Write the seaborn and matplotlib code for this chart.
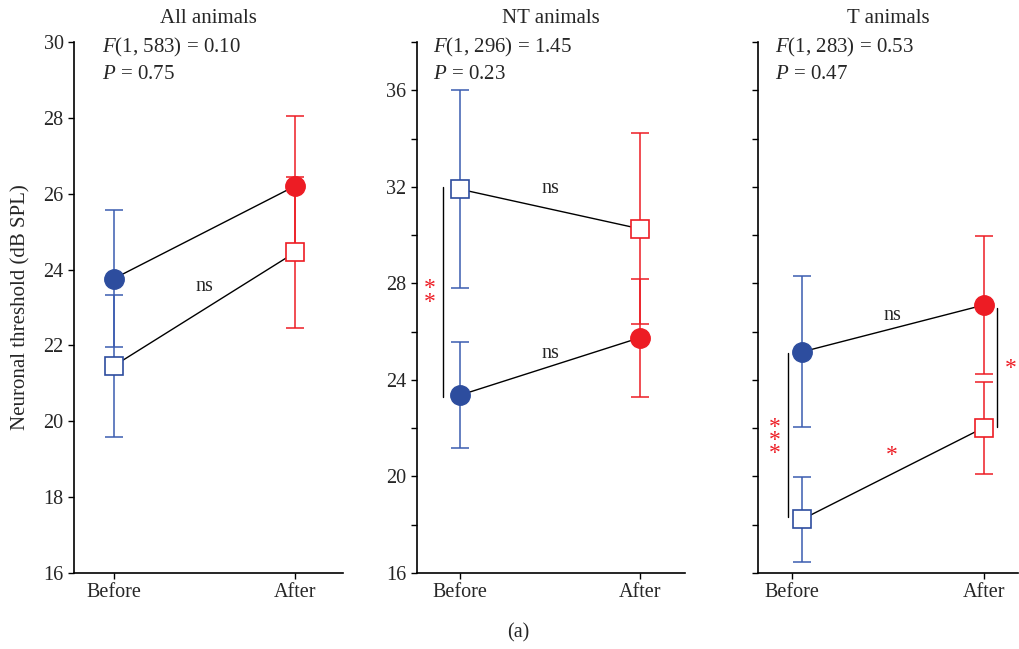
import matplotlib
matplotlib.use("Agg")
import matplotlib.pyplot as plt
import seaborn as sns
import pandas as pd

# data (mean +/- error)
conditions = ["Before", "After"]
panel_titles = ["All animals", "NT animals", "T animals"]

all_filled = [23.76, 26.20]
all_filled_err = [1.80, 1.86]
all_open = [21.46, 24.45]
all_open_err = [1.87, 2.00]

nt_filled = [23.37, 25.75]
nt_filled_err = [2.20, 2.45]
nt_open = [31.90, 30.26]
nt_open_err = [4.10, 3.95]

t_filled = [25.16, 27.10]
t_filled_err = [3.13, 2.87]
t_open = [18.22, 22.02]
t_open_err = [1.75, 1.90]

f_texts = ["(1, 583) = 0.10", "(1, 296) = 1.45", "(1, 283) = 0.53"]
p_texts = ["0.75", "0.23", "0.47"]

BLUE = "#2d4d9e"
BLUE_BAR = "#3b5cb0"
RED = "#ed1c24"

sns.set_style("ticks")
plt.rcParams["font.family"] = ["Liberation Serif", "DejaVu Serif"]
plt.rcParams["mathtext.fontset"] = "custom"
plt.rcParams["mathtext.it"] = "Liberation Serif:italic"
plt.rcParams["mathtext.rm"] = "Liberation Serif"
FS = 14.5

fig = plt.figure(figsize=(10.2, 6.49), dpi=100)
boxes = [(0.0725, 0.1171, 0.2637, 0.8182),
         (0.4088, 0.1171, 0.2627, 0.8182),
         (0.7431, 0.1171, 0.2549, 0.8182)]
xlims = [(-0.22, 1.265), (-0.24, 1.25), (-0.18, 1.18)]
shifts = [0.0, 0.0, 0.05]
text_x = [0.104, 0.06, 0.065]

panels = [(all_filled, all_filled_err, all_open, all_open_err),
          (nt_filled, nt_filled_err, nt_open, nt_open_err),
          (t_filled, t_filled_err, t_open, t_open_err)]

axes = []
for i, (filled, filled_err, opn, opn_err) in enumerate(panels):
    ax = fig.add_axes(boxes[i])
    axes.append(ax)
    xs = [0 + shifts[i], 1]
    df = pd.DataFrame({"x": xs * 2, "y": filled + opn,
                       "grp": ["filled"] * 2 + ["open"] * 2})
    # error bars, one colour per condition
    for j, col in enumerate([BLUE_BAR, RED]):
        ax.errorbar([xs[j], xs[j]], [filled[j], opn[j]],
                    yerr=[filled_err[j], opn_err[j]], fmt="none",
                    ecolor=col, elinewidth=1.1, capsize=6.5, capthick=1.1, zorder=2)
    sns.lineplot(data=df, x="x", y="y", units="grp", estimator=None,
                 color="black", linewidth=1.0, ax=ax, zorder=3, legend=False)
    for j, col in enumerate([BLUE, RED]):
        ax.plot(xs[j], filled[j], "o", ms=14, color=col, mec=col, zorder=4)
        ax.plot(xs[j], opn[j], "s", ms=12.5, mfc="white", mec=col, mew=1.2, zorder=4)

    ax.set_xlim(*xlims[i])
    ax.set_xticks([0, 1])
    ax.set_xticklabels(conditions)
    ax.set_xlabel("")
    ax.set_ylabel("")
    ax.set_title(panel_titles[i], fontsize=FS + 0.5, pad=14)
    ax.text(text_x[i], 0.99, "$F$" + f_texts[i], transform=ax.transAxes,
            fontsize=FS + 0.5, va="center")
    ax.text(text_x[i], 0.938, "$P$ = " + p_texts[i], transform=ax.transAxes,
            fontsize=FS + 0.5, va="center")
    ax.tick_params(direction="out", length=4, width=1, labelsize=FS, color="black")
    for s in ["left", "bottom"]:
        ax.spines[s].set_linewidth(1.2)
        ax.spines[s].set_color("black")
    sns.despine(ax=ax)

# panel 1 axis
axes[0].set_ylim(16, 30)
axes[0].set_yticks(range(16, 31, 2))
axes[0].set_ylabel("Neuronal threshold (dB SPL)", fontsize=FS + 0.5, labelpad=9)

# panel 2 and 3 axes
for ax in axes[1:]:
    ax.set_ylim(16, 38)
    ax.set_yticks(range(16, 39, 2))
axes[1].set_yticklabels([str(v) if v % 4 == 0 and v < 38 else "" for v in range(16, 39, 2)])
axes[2].set_yticklabels([])

# annotations
axes[0].text(0.5, 23.55, "ns", ha="center", va="center", fontsize=FS)

ax = axes[1]
ax.text(0.5, 31.94, "ns", ha="center", va="center", fontsize=FS)
ax.text(0.5, 25.1, "ns", ha="center", va="center", fontsize=FS)
ax.plot([-0.093, -0.093], [23.3, 32.0], color="black", lw=1.0)
ax.text(-0.167, 27.5, "*\n*", color=RED, ha="center", va="center",
        fontsize=17, linespacing=0.55)

ax = axes[2]
ax.text(0.525, 26.68, "ns", ha="center", va="center", fontsize=FS)
ax.plot([-0.023, -0.023], [18.3, 25.1], color="black", lw=1.0)
ax.text(-0.093, 21.5, "*\n*\n*", color=RED, ha="center", va="center",
        fontsize=17, linespacing=0.5)
ax.plot([1.07, 1.07], [22.06, 26.96], color="black", lw=1.0)
ax.text(1.145, 24.47, "*", color=RED, ha="center", va="center", fontsize=17)
ax.text(0.52, 20.85, "*", color=RED, ha="center", va="center", fontsize=17)

fig.text(518 / 1020, 1 - 633 / 649, "(a)", ha="center", va="center", fontsize=FS)

fig.savefig("out.png", dpi=100)
